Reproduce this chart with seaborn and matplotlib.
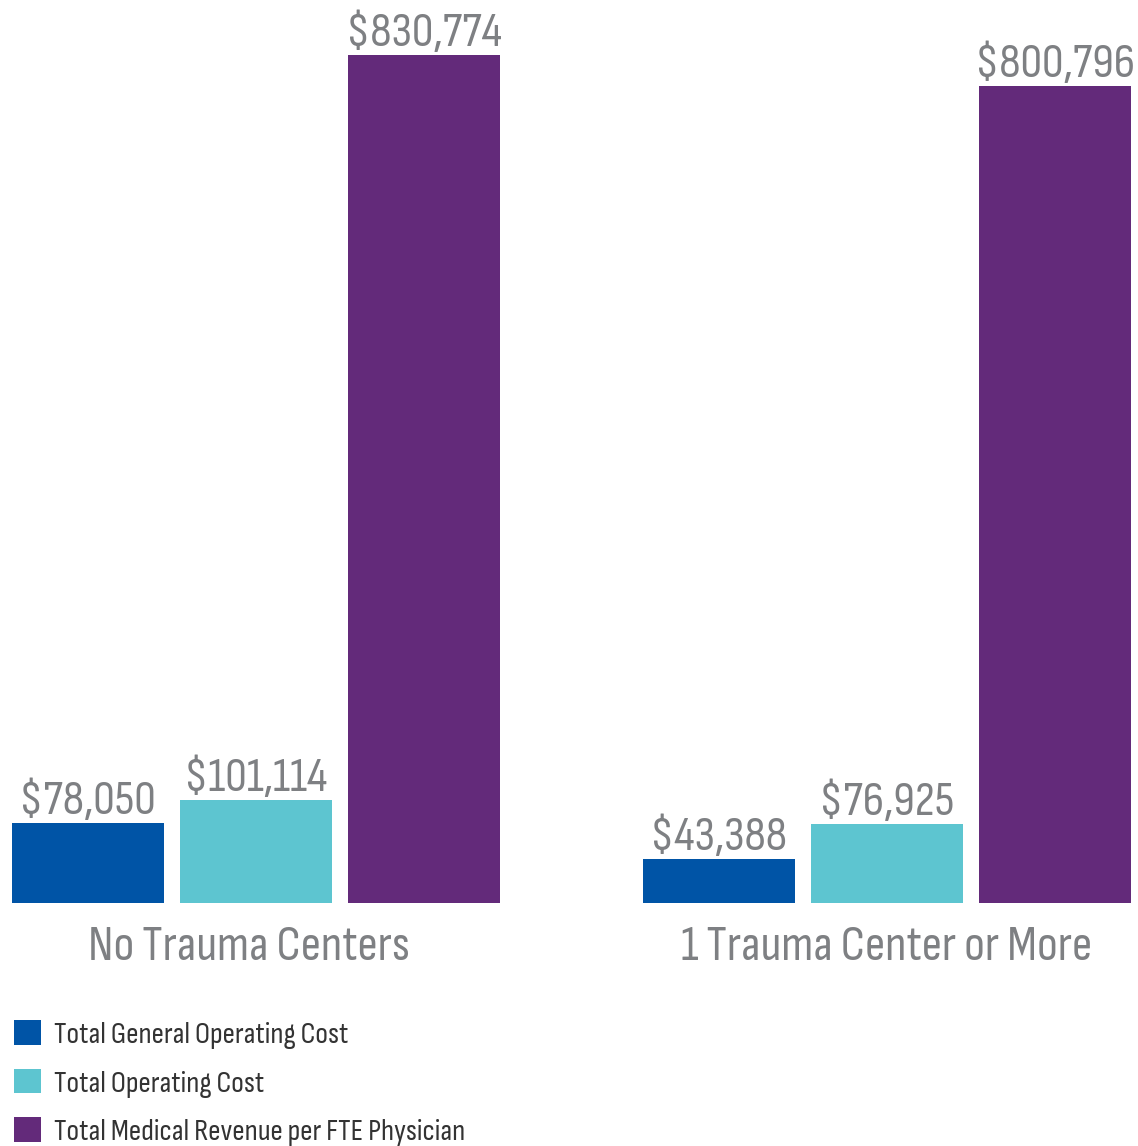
import matplotlib
matplotlib.use("Agg")
import matplotlib.pyplot as plt
import matplotlib.transforms as mtransforms
import seaborn as sns
import pandas as pd

# data
groups = ["No Trauma Centers", "1 Trauma Center or More"]
metrics = ["Total General Operating Cost", "Total Operating Cost",
           "Total Medical Revenue per FTE Physician"]
general_cost = [78050, 43388]
operating_cost = [101114, 76925]
medical_revenue = [830774, 800796]

colors = ["#0054A6", "#5DC5D0", "#632A7A"]
label_gray = "#7E8083"
legend_gray = "#333333"

rows = []
for i, g in enumerate(groups):
    for m, vals in zip(metrics, [general_cost, operating_cost, medical_revenue]):
        rows.append({"group": g, "metric": m, "value": vals[i]})
df = pd.DataFrame(rows)

sns.set_style("white")
plt.rcParams["font.family"] = ["Sofia Sans Condensed", "DejaVu Sans"]

W, H = 1138, 1146
fig = plt.figure(figsize=(W / 100, H / 100), dpi=100)
base = 903
ax = fig.add_axes([0, (H - base) / H, 1, base / H])

sns.barplot(data=df, x="group", y="value", hue="metric", hue_order=metrics,
            palette=colors, width=0.8, gap=0.097, saturation=1,
            edgecolor="none", linewidth=0, ax=ax, errorbar=None)

ax.set_xlim(-256 / 631, 1 + (1138 - 887) / 631)
ax.set_ylim(0, base * 830774 / 848)

for cont in ax.containers:
    ax.bar_label(cont, labels=[f"${v:,.0f}" for v in cont.datavalues],
                 padding=0, fontsize=35, color=label_gray)

ax.set_xticks([0, 1])
ax.set_xticklabels(groups, fontsize=36, color=label_gray)
ax.tick_params(axis="x", length=0, pad=16)
ax.set_yticks([])
ax.set_xlabel("")
ax.set_ylabel("")
sns.despine(ax=ax, left=True, bottom=True)

# first group label sits a little left of its group centre in the reference
lbl = ax.get_xticklabels()[0]
lbl.set_transform(lbl.get_transform()
                  + mtransforms.ScaledTranslation(-0.07, 0, fig.dpi_scale_trans))

handles, labels = ax.get_legend_handles_labels()
ax.legend(handles, labels, loc="upper left",
          bbox_to_anchor=(2 / W, 1 - 1008 / H), bbox_transform=fig.transFigure,
          frameon=False, fontsize=22, labelcolor=legend_gray,
          handlelength=0.88, handleheight=0.88, handletextpad=0.42,
          labelspacing=0.63, borderaxespad=0, borderpad=0.4)

fig.savefig("out.png", dpi=100)
